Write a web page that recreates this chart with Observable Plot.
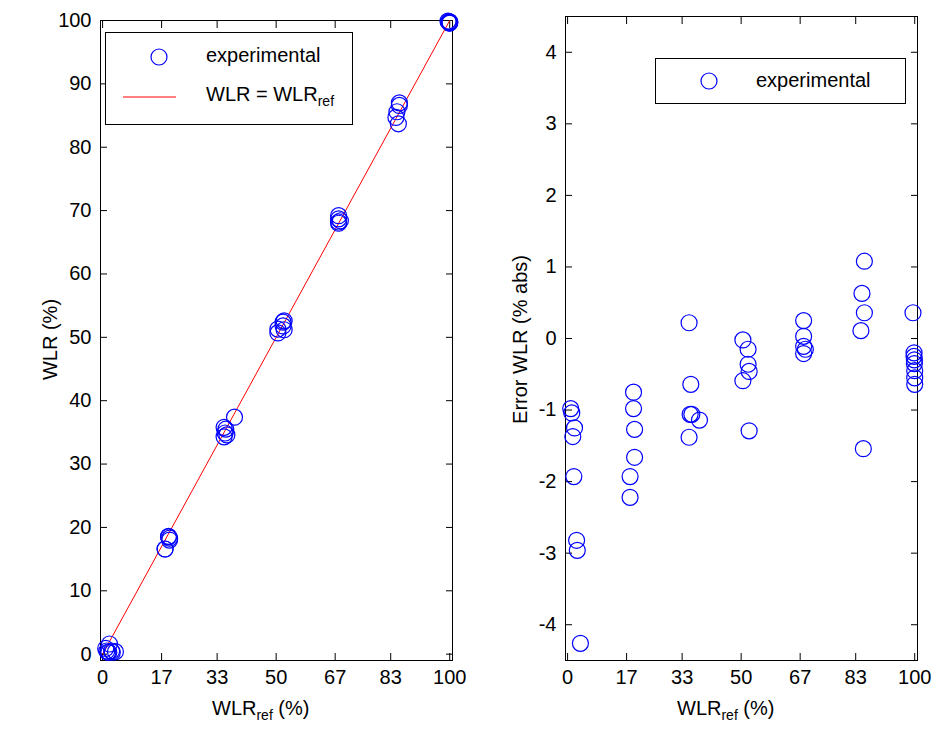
<!DOCTYPE html>
<html><head><meta charset="utf-8">
<script src="https://cdn.jsdelivr.net/npm/d3@7"></script>
<script src="https://cdn.jsdelivr.net/npm/@observablehq/plot@0.6"></script>
<style>
body{margin:0;background:#fff;font-family:"Liberation Sans",Arial,sans-serif}
#wrap{position:relative;width:934px;height:733px}
#wrap svg{position:absolute;top:0}
.leg{position:absolute;border:1px solid #000;background:#fff;font-size:20px}
.lab{position:absolute;font-size:20px;white-space:nowrap}
</style></head><body>
<div id="wrap"></div>
<script>
// reference WLR (%), measured WLR (%) and measurement error (% abs)
const wlrRef = [0.9,1.2,1.5,2.0,1.8,2.6,2.8,3.7, 18,18,19,19,19.3,19.3, 35,35.5,35.3,35.8,35,38,
  50.5,50.5,52,52,52.3,52.3, 68,68,68,68,68.5, 84.5,84.8,85.5,85.5,85.2,
  99.5,99.8,99.8,99.9,99.9,100,100,100];
const wlrMeas = [0.9,0.5,0.3,1.6,0.3,0.5,0.3,0.4, 16.6,16.6,18.6,18.5,18.3,18.0,
  35.8,35.5,34.9,34.6,34.3,37.4, 51.3,50.7,51.8,52.4,52.6,51.2,
  69.2,68.7,68.2,68.0,68.4, 84.7,85.6,86.6,87.0,83.7,
  99.9,99.8,99.7,99.8,99.6,99.7,99.8,99.6];
const errAbs = [-0.98,-1.04,-1.37,-1.25,-1.93,-2.82,-2.96,-4.26, -1.93,-2.22,-0.75,-0.98,-1.27,-1.66,
  0.22,-0.64,-1.06,-1.06,-1.38,-1.14, -0.02,-0.59,-0.15,-0.36,-0.46,-1.29,
  0.25,0.03,-0.11,-0.21,-0.15, 0.11,0.63,1.08,0.36,-1.54,
  0.36,-0.2,-0.25,-0.3,-0.35,-0.45,-0.55,-0.64];
const xTicks = [0,17,33,50,67,83,100];
const yTicksL = [0,10,20,30,40,50,60,70,80,90,100];
const yTicksR = [-4,-3,-2,-1,0,1,2,3,4];

const pts = wlrRef.map((r,i) => ({ref:r, err:errAbs[i], wlr:wlrMeas[i]}));
const blue = "#0000ff";
const common = {width:467,height:733,marginTop:20,marginBottom:73,
  style:{fontSize:"20px",fontFamily:"Liberation Sans, Arial, sans-serif",color:"#000"}};
const axes = (yt) => [
  Plot.frame({stroke:"#000"}),
  Plot.axisX({ticks:xTicks,tickSize:-7,tickPadding:16,tickFormat:d=>d,label:null}),
  Plot.axisX({ticks:xTicks,anchor:"top",tickSize:-7,tickFormat:()=>"",label:null}),
  Plot.axisY({ticks:yt,tickSize:-7,tickPadding:16,tickFormat:d=>d,label:null}),
  Plot.axisY({ticks:yt,anchor:"right",tickSize:-7,tickFormat:()=>"",label:null})
];

const left = Plot.plot({...common, marginLeft:100, marginRight:15,
  x:{domain:[-0.6,100.8]}, y:{domain:[-1,100]},
  marks:[
    ...axes(yTicksL),
    Plot.line([0,100].map(v=>({x:v})),{x:"x",y:"x",stroke:"red",strokeWidth:1}),
    Plot.dot(pts,{x:"ref",y:"wlr",r:8,stroke:blue,strokeWidth:1.2})
  ]});
left.style.left="0px";

const right = Plot.plot({...common, marginLeft:98, marginRight:17, marginTop:16,
  x:{domain:[-0.6,100.8]}, y:{domain:[-4.5,4.5]},
  marks:[
    ...axes(yTicksR),
    Plot.dot(pts,{x:"ref",y:"err",r:8,stroke:blue,strokeWidth:1.2})
  ]});
right.style.left="467px";

const w = document.getElementById("wrap");
w.append(left,right);
w.insertAdjacentHTML("beforeend",`
<div class="leg" style="left:105px;top:32px;width:246px;height:91px">
 <svg width="70" height="91" style="position:absolute;left:0;top:0">
  <circle cx="53" cy="24" r="8" fill="none" stroke="${blue}" stroke-width="1.2"/>
  <line x1="17" x2="89" y1="64" y2="64" stroke="red"/></svg>
 <div style="position:absolute;left:100px;top:11px">experimental</div>
 <div style="position:absolute;left:100px;top:50px">WLR = WLR<sub style="font-size:14px">ref</sub></div>
</div>
<div class="leg" style="left:655px;top:58px;width:249px;height:44px">
 <svg width="70" height="44" style="position:absolute;left:0;top:0">
  <circle cx="53" cy="22" r="8" fill="none" stroke="${blue}" stroke-width="1.2"/></svg>
 <div style="position:absolute;left:100px;top:10px">experimental</div>
</div>
<div class="lab" style="left:212px;top:697px">WLR<sub style="font-size:14px">ref</sub> (%)</div>
<div class="lab" style="left:677px;top:697px">WLR<sub style="font-size:14px">ref</sub> (%)</div>
<div class="lab" style="left:0px;top:328px;width:100px;text-align:center;transform:rotate(-90deg)">WLR (%)</div>
<div class="lab" style="left:420px;top:328px;width:200px;text-align:center;transform:rotate(-90deg)">Error WLR (% abs)</div>
`);
</script></body></html>
